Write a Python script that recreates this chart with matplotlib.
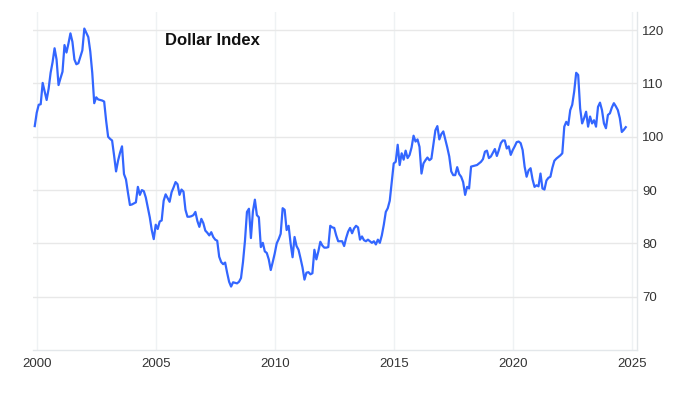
import matplotlib.pyplot as plt
import numpy as np
import pandas as pd

# monthly Dollar Index values, Dec 1999 -> Oct 2024
start_month = '1999-12-01'
dxy = [
    102.0, 104.5, 106.0, 106.1, 110.1, 108.5, 106.9, 109.0, 112.0, 114.0, 116.6, 114.5,
    109.7, 111.0, 112.2, 117.2, 115.8, 117.5, 119.4, 117.8, 114.5, 113.6, 113.8, 115.0,
    116.2, 120.3, 119.5, 118.7, 116.0, 112.0, 106.3, 107.4, 107.0, 106.9, 106.8, 106.6,
    103.0, 100.0, 99.6, 99.3, 96.5, 93.5, 95.5, 97.0, 98.2, 93.0, 92.0, 89.5,
    87.2, 87.3, 87.5, 87.7, 90.6, 89.1, 90.0, 89.8, 88.6, 86.8, 84.9, 82.5,
    80.8, 83.5, 82.7, 84.1, 84.3, 88.0, 89.2, 88.5, 87.8, 89.6, 90.5, 91.5,
    91.1, 89.1, 90.1, 89.7, 86.3, 85.0, 85.0, 85.1, 85.3, 85.9, 84.2, 83.1,
    84.6, 83.8, 82.4, 82.0, 81.5, 82.1, 81.2, 80.7, 80.5, 77.5, 76.5, 76.1,
    76.4, 74.5, 72.8, 71.9, 72.7, 72.6, 72.5, 72.8, 73.5, 76.5, 80.5, 85.9,
    86.5, 81.0, 86.0, 88.2, 85.3, 84.9, 79.3, 80.1, 78.5, 78.2, 77.0, 75.0,
    76.5, 78.1, 80.0, 80.8, 81.8, 86.6, 86.3, 82.5, 83.3, 80.0, 77.4, 81.2,
    79.5, 78.8, 77.2, 75.5, 73.2, 74.5, 74.6, 74.2, 74.4, 78.8, 77.0, 78.5,
    80.3, 79.6, 79.2, 79.2, 79.3, 83.3, 83.0, 82.9, 81.5, 80.4, 80.4, 80.4,
    79.5, 81.0, 82.2, 82.9, 81.9, 82.8, 83.3, 83.0, 80.7, 81.3, 80.6, 80.4,
    80.7, 80.4, 80.1, 80.4, 79.8, 80.7, 80.1, 81.5, 83.5, 85.9, 86.6, 88.0,
    91.5, 95.0, 95.3, 98.5, 94.7, 96.9, 95.7, 97.4, 96.0, 96.6, 98.0, 100.2,
    99.1, 99.5, 98.1, 93.1, 95.0, 95.6, 96.1, 95.6, 95.9, 98.5, 101.2, 102.0,
    99.5, 100.5, 101.0, 99.5, 98.0, 96.3, 93.5, 92.8, 92.8, 94.3, 93.0, 92.5,
    91.5, 89.1, 90.6, 90.3, 94.4, 94.5, 94.6, 94.7, 95.0, 95.3, 95.8, 97.2,
    97.4, 96.0, 96.3, 97.0, 97.7, 96.4, 97.5, 98.8, 99.3, 99.3, 97.8, 98.2,
    96.6, 97.5, 98.2, 99.0, 99.1, 98.8, 97.5, 94.4, 92.5, 93.7, 94.1, 92.0,
    90.6, 90.9, 90.7, 93.1, 90.3, 90.1, 91.8, 92.3, 92.5, 94.2, 95.5, 95.9,
    96.2, 96.5, 96.9, 101.9, 102.8, 102.2, 105.0, 106.0, 108.5, 112.0, 111.6, 105.3,
    102.5, 103.5, 104.7, 101.9, 103.8, 102.5, 103.1, 101.9, 105.6, 106.4, 105.0, 102.5,
    101.6, 104.1, 104.4, 105.5, 106.3, 105.7, 105.0, 103.5, 100.9, 101.3, 101.8,
]
year_ticks = [2000, 2005, 2010, 2015, 2020, 2025]
value_ticks = [70, 80, 90, 100, 110, 120]

dates = pd.date_range(start_month, periods=len(dxy), freq='MS')
x = dates.year + (dates.month - 1) / 12.

plt.rcParams['font.family'] = ['Liberation Sans', 'DejaVu Sans']

fig = plt.figure(figsize=(7, 3.98), dpi=100)
ax = fig.add_axes([0.0476, 0.1206, 0.862, 0.8492])

ax.plot(x, dxy, color='#3366ff', lw=1.6, solid_joinstyle='round')

ax.set_xlim(1999.857, 2025.21)
ax.set_ylim(60, 123.4)
ax.set_xticks(year_ticks)
ax.set_yticks(value_ticks)
ax.yaxis.tick_right()

ax.grid(axis='y', color='#e8e8e8', lw=1)
ax.grid(axis='x', color='#eff2f4', lw=1)
ax.set_axisbelow(True)

for s in ['top', 'left']:
    ax.spines[s].set_visible(False)
for s in ['right', 'bottom']:
    ax.spines[s].set_color('#e3e7ea')
    ax.spines[s].set_linewidth(1)

ax.tick_params(axis='both', length=0, labelsize=9.5, colors='#333333')
ax.tick_params(axis='x', pad=6)
ax.tick_params(axis='y', pad=4)

ax.text(0.219, 0.917, 'Dollar Index', transform=ax.transAxes, fontsize=12,
        fontweight='bold', ha='left', va='center', color='#111111')

fig.savefig('out.png', dpi=100)
